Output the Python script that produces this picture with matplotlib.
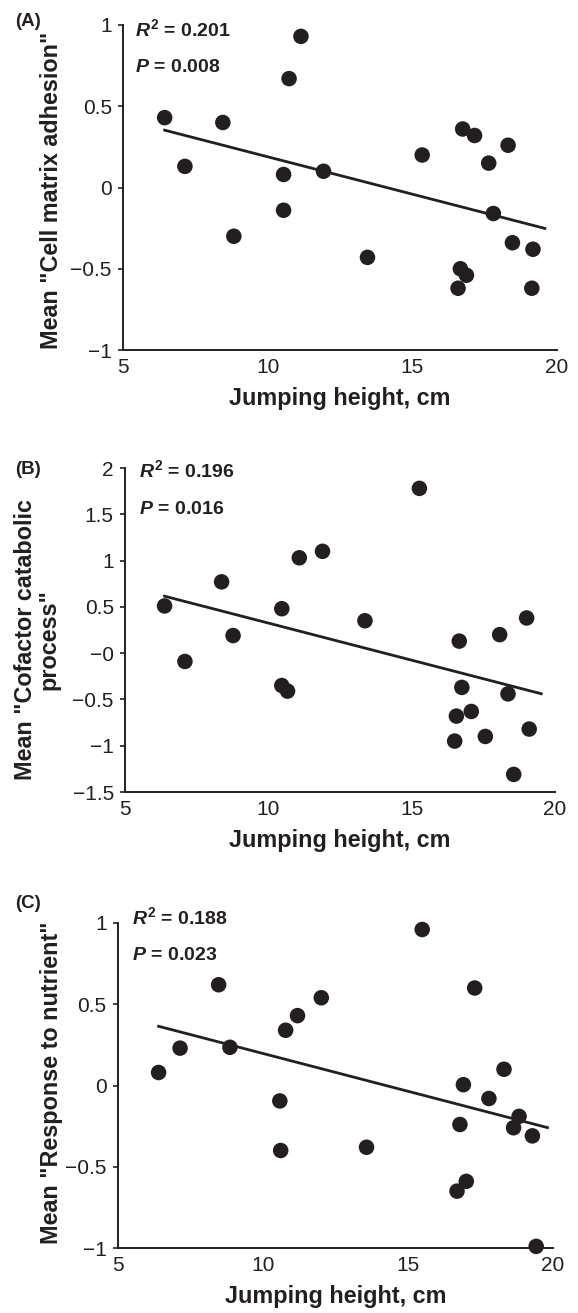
import numpy as np
import matplotlib.pyplot as plt

plt.rcParams['font.family'] = ['Liberation Sans', 'DejaVu Sans']
plt.rcParams['mathtext.fontset'] = 'custom'
plt.rcParams['mathtext.rm'] = 'Liberation Sans:bold'
plt.rcParams['mathtext.it'] = 'Liberation Sans:italic:bold'
plt.rcParams['mathtext.bf'] = 'Liberation Sans:bold'

# --- data ---
x_a = [6.44, 7.14, 8.45, 8.83, 10.55, 10.55, 10.74, 11.15, 11.93, 13.45, 15.34,
       16.58, 16.66, 16.74, 16.87, 17.15, 17.64, 17.80, 18.31, 18.46, 19.13, 19.17]
y_a = [0.43, 0.13, 0.40, -0.30, 0.08, -0.14, 0.67, 0.93, 0.10, -0.43, 0.20,
       -0.62, -0.50, 0.36, -0.54, 0.32, 0.15, -0.16, 0.26, -0.34, -0.62, -0.38]

x_b = [6.38, 7.09, 8.37, 8.77, 10.47, 10.47, 10.67, 11.08, 11.89, 13.37, 15.27,
       16.50, 16.56, 16.66, 16.75, 17.08, 17.57, 18.07, 18.36, 18.56, 19.01, 19.10]
y_b = [0.51, -0.09, 0.77, 0.19, 0.48, -0.35, -0.41, 1.03, 1.10, 0.35, 1.78,
       -0.95, -0.68, 0.13, -0.37, -0.63, -0.90, 0.20, -0.44, -1.31, 0.38, -0.82]

x_c = [6.40, 7.14, 8.47, 8.86, 10.58, 10.61, 10.78, 11.19, 12.01, 13.57, 15.49,
       16.69, 16.79, 16.91, 17.01, 17.30, 17.79, 18.31, 18.64, 18.83, 19.29, 19.42]
y_c = [0.08, 0.23, 0.62, 0.235, -0.095, -0.40, 0.34, 0.43, 0.54, -0.38, 0.96,
       -0.65, -0.24, 0.005, -0.59, 0.60, -0.08, 0.10, -0.26, -0.19, -0.31, -0.99]

# trend lines: slope, intercept, x range
fit_a = (-0.0460, 0.649, [6.44, 19.58])
fit_b = (-0.0802, 1.127, [6.38, 19.52])
fit_c = (-0.0465, 0.662, [6.40, 19.81])

stats_a = ('0.201', '0.008')
stats_b = ('0.196', '0.016')
stats_c = ('0.188', '0.023')

xticks = [5, 10, 15, 20]
yticks_a = [-1, -0.5, 0, 0.5, 1]
yticks_b = [-1.5, -1, -0.5, 0, 0.5, 1, 1.5, 2]
yticks_c = [-1, -0.5, 0, 0.5, 1]
ylabels_a = ['\u22121', '\u22120.5', '0', '0.5', '1']
ylabels_b = ['\u22121.5', '\u22121', '\u22120.5', '\u22120', '0.5', '1', '1.5', '2']
ylabels_c = ['\u22121', '\u22120.5', '0', '0.5', '1']

ink = '#231f20'
W, H = 578, 1313
fig = plt.figure(figsize=(W / 100, H / 100), dpi=100)


def px_axes(left, top, right, bottom):
    return fig.add_axes([left / W, 1 - bottom / H, (right - left) / W, (bottom - top) / H])


panels = [
    dict(box=(123, 25, 557, 350), x=x_a, y=y_a, fit=fit_a, st=stats_a,
         yt=yticks_a, yl=ylabels_a, lim=(-1, 1), tag='(A)', tagy=21,
         ylab='Mean "Cell matrix adhesion"', ylx=52, yly=190, tx=(0.028, 0.966, 0.855)),
    dict(box=(125, 468, 555, 792), x=x_b, y=y_b, fit=fit_b, st=stats_b,
         yt=yticks_b, yl=ylabels_b, lim=(-1.5, 2), tag='(B)', tagy=469,
         ylab='Mean "Cofactor catabolic\nprocess"', ylx=37, yly=640, tx=(0.033, 0.972, 0.858)),
    dict(box=(118, 923, 553, 1248), x=x_c, y=y_c, fit=fit_c, st=stats_c,
         yt=yticks_c, yl=ylabels_c, lim=(-1, 1), tag='(C)', tagy=903,
         ylab='Mean "Response to nutrient"', ylx=52, yly=1083, tx=(0.032, 0.997, 0.886)),
]

for p in panels:
    l, t, r, b = p['box']
    ax = px_axes(l, t, r, b)
    ax.scatter(p['x'], p['y'], s=125, color=ink, edgecolors='none', zorder=3, clip_on=False)
    m, c0, xr = p['fit']
    xr = np.array(xr)
    ax.plot(xr, m * xr + c0, color=ink, lw=2.0, zorder=2)

    ax.set_xlim(5, 20)
    ax.set_ylim(*p['lim'])
    ax.set_xticks(xticks)
    ax.set_xticklabels([str(v) for v in xticks])
    ax.set_yticks(p['yt'])
    ax.set_yticklabels(p['yl'])
    ax.tick_params(axis='x', length=0, pad=6, labelsize=15, colors=ink)
    ax.tick_params(axis='y', length=3.6, width=1.2, pad=4.5, labelsize=15, colors=ink)
    for s in ['top', 'right']:
        ax.spines[s].set_visible(False)
    for s in ['left', 'bottom']:
        ax.spines[s].set_linewidth(1.4)
        ax.spines[s].set_color(ink)

    ax.set_xlabel('Jumping height, cm', fontsize=16.8, fontweight='bold', labelpad=7,
                  color=ink)

    fig.text(p['ylx'] / W, 1 - p['yly'] / H, p['ylab'], rotation=90,
             ha='center', va='center', fontsize=16.8, fontweight='bold',
             multialignment='center', linespacing=1.0, color=ink)
    fig.text(15 / W, 1 - p['tagy'] / H, p['tag'], ha='left', va='center',
             fontsize=13.5, fontweight='bold', color=ink)

    tx, ty1, ty2 = p['tx']
    ax.text(tx, ty1, '$R^{2}$ = ' + p['st'][0], transform=ax.transAxes,
            ha='left', va='baseline', fontsize=14, fontweight='bold', color=ink)
    ax.text(tx, ty2, '$P$ = ' + p['st'][1], transform=ax.transAxes,
            ha='left', va='baseline', fontsize=14, fontweight='bold', color=ink)

fig.savefig('out.png', dpi=100)
